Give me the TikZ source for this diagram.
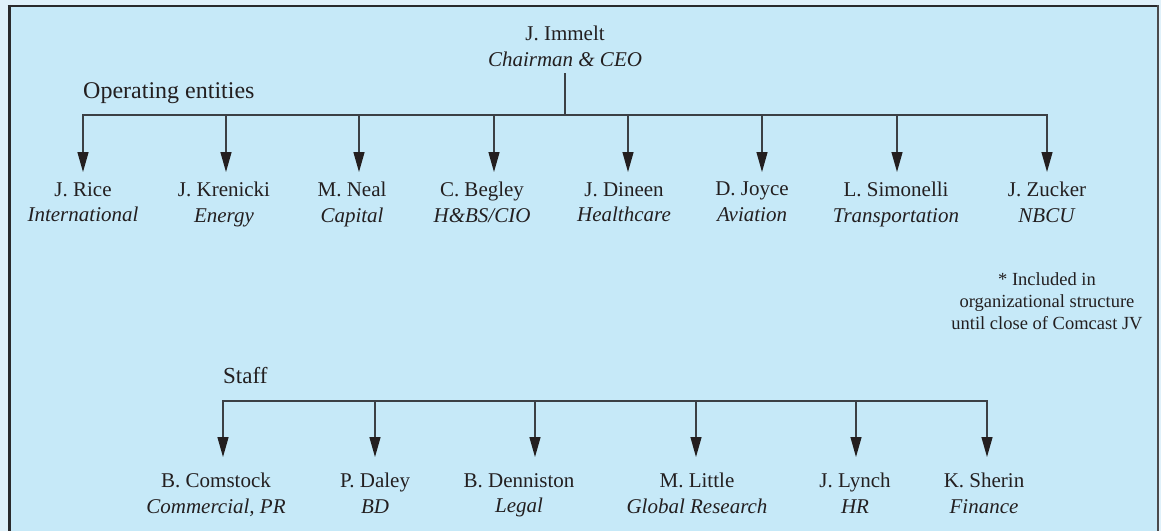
\documentclass[tikz,border=0pt]{standalone}
\usepackage{fontspec}
\setmainfont{Liberation Serif}
\usetikzlibrary{arrows.meta}

\definecolor{outerbg}{HTML}{E0F1FA}
\definecolor{panel}{HTML}{C6E9F8}
\definecolor{ink}{HTML}{231F20}
\definecolor{wire}{HTML}{3B4045}
\definecolor{rim}{HTML}{2A2A2C}

\begin{document}
\begin{tikzpicture}[x=1pt,y=-1pt,
  wire/.style={draw=wire,line width=1.3pt,line cap=rect},
  feed/.style={draw=wire,line width=1.3pt,-{Triangle[length=20pt,width=11pt,color=ink]}},
  person/.style={align=center,inner sep=0pt,anchor=north,text=ink,
                 font=\fontsize{21}{25.5}\selectfont},
  heading/.style={inner sep=0pt,anchor=base west,text=ink,
                  font=\fontsize{24}{28}\selectfont},
  note/.style={align=center,inner sep=0pt,anchor=north,text=ink,
               font=\fontsize{18.5}{22}\selectfont}]

% panel and its frame
\useasboundingbox (0,0) rectangle (1161,531);
\fill[outerbg] (0,0) rectangle (1161,531);
\fill[panel] (9,6) rectangle (1158,531);
\draw[rim,line width=2.5pt] (7.5,6) -- (1159,6);
\draw[rim,line width=3pt] (9,4.75) -- (9,531);
\draw[rim!85!white,line width=1.8pt] (1158,4.75) -- (1158,531);

% chairman
\node[person] (ceo) at (565,26) {J. Immelt\\\textit{Chairman \& CEO}};
\coordinate (ceo-out) at (565,74);
\coordinate (opbus) at (565,115);
\draw[wire] (ceo-out) -- (opbus);

% operating entities
\node[heading] (ophead) at (83,98) {Operating entities};

\node[person] (rice)      at (83,182)   {J. Rice\\\textit{International}};
\node[person] (krenicki)  at (224,182)  {J. Krenicki\\\textit{Energy}};
\node[person] (neal)      at (352,182)  {M. Neal\\\textit{Capital}};
\node[person] (begley)    at (482,182)  {C. Begley\\\textit{H\&BS/CIO}};
\node[person] (dineen)    at (624,182)  {J. Dineen\\\textit{Healthcare}};
\node[person] (joyce)     at (752,182)  {D. Joyce\\\textit{Aviation}};
\node[person] (simonelli) at (896,182)  {L. Simonelli\\\textit{Transportation}};
\node[person] (zucker)    at (1047,182) {J. Zucker\\\textit{NBCU}};

\coordinate (rice-in)      at (83,172);
\coordinate (krenicki-in)  at (226,172);
\coordinate (neal-in)      at (359,172);
\coordinate (begley-in)    at (494,172);
\coordinate (dineen-in)    at (628,172);
\coordinate (joyce-in)     at (762,172);
\coordinate (simonelli-in) at (897,172);
\coordinate (zucker-in)    at (1047,172);

\draw[wire] (rice-in |- opbus) -- (zucker-in |- opbus);
\foreach \who in {rice,krenicki,neal,begley,dineen,joyce,simonelli,zucker}
  \draw[feed] (\who-in |- opbus) -- (\who-in);

% footnote
\node[note] (footnote) at (1047,272)
  {* Included in\\organizational structure\\until close of Comcast JV};

% staff
\node[heading,font=\fontsize{23}{27}\selectfont] (staffhead) at (223,383) {Staff};
\coordinate (staffbus) at (600,401);

\node[person] (comstock)  at (216,473) {B. Comstock\\\textit{Commercial, PR}};
\node[person] (daley)     at (375,473) {P. Daley\\\textit{BD}};
\node[person] (denniston) at (519,473) {B. Denniston\\\textit{Legal}};
\node[person] (little)    at (697,473) {M. Little\\\textit{Global Research}};
\node[person] (lynch)     at (855,473) {J. Lynch\\\textit{HR}};
\node[person] (sherin)    at (984,473) {K. Sherin\\\textit{Finance}};

\coordinate (comstock-in)  at (223,457);
\coordinate (daley-in)     at (375,457);
\coordinate (denniston-in) at (535,457);
\coordinate (little-in)    at (696,457);
\coordinate (lynch-in)     at (856,457);
\coordinate (sherin-in)    at (987,457);

\draw[wire] (comstock-in |- staffbus) -- (sherin-in |- staffbus);
\foreach \who in {comstock,daley,denniston,little,lynch,sherin}
  \draw[feed] (\who-in |- staffbus) -- (\who-in);

\end{tikzpicture}
\end{document}
